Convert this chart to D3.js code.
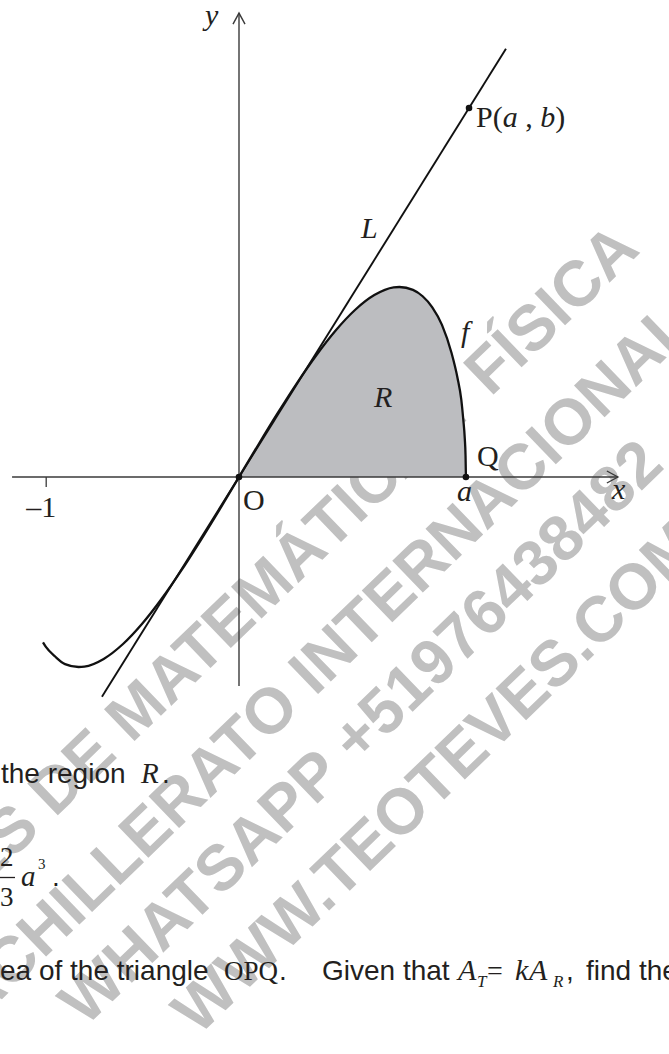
<!DOCTYPE html>
<html>
<head>
<meta charset="utf-8">
<script src="https://cdn.jsdelivr.net/npm/d3@7"></script>
<style>
  html, body { margin: 0; padding: 0; background: #fff; }
  svg { display: block; }
</style>
</head>
<body>
<svg id="chart" width="669" height="1054"></svg>
<script>
// ---------------- data ----------------
const xTickValues = [-1];
const xTickLabels = ["\u20131"];
// f for x < 0
const curveLeftX = [-1.014, -1.0, -0.95, -0.9, -0.83, -0.8, -0.7, -0.6, -0.5, -0.4, -0.3, -0.2, -0.1, 0];
const curveLeftY = [-0.856, -0.878, -0.930, -0.968, -0.983, -0.981, -0.941, -0.864, -0.758, -0.630, -0.486, -0.330, -0.167, 0];
// f for 0 <= x <= a
const curveRightX = [0, 0.1, 0.2, 0.3, 0.4, 0.5, 0.6, 0.7, 0.8, 0.83, 0.9, 0.95, 1.0, 1.05, 1.1, 1.13, 1.15, 1.16, 1.168, 1.172, 1.174];
const curveRightY = [0, 0.167, 0.330, 0.486, 0.630, 0.758, 0.864, 0.941, 0.981, 0.983, 0.968, 0.935, 0.878, 0.787, 0.640, 0.515, 0.400, 0.300, 0.200, 0.110, 0];
// line L
const lineLX = [-0.709, 1.381];
const lineLY = [-1.137, 2.215];
// marked points
const pointNames = ["O", "Q", "P"];
const pointX = [0, 1.174, 1.19];
const pointY = [0, 0, 1.909];
// axis extents
const xAxisExtent = [-1.174, 1.96];
const yAxisExtent = [-1.081, 2.40];
// watermark
const watermarkLines = [
  "CLASES DE MATEMÁTICA Y FÍSICA",
  "BACHILLERATO INTERNACIONAL",
  "WHATSAPP +51976438482",
  "WWW.TEOTEVES.COM"
];

// ---------------- setup ----------------
const svg = d3.select("#chart");
const SERIF = "'Liberation Serif','Times New Roman',Times,serif";
const SANS = "'Liberation Sans',Arial,Helvetica,sans-serif";
const INK = "#231f20";
const LBL = 30;

const x = d3.scaleLinear().domain([-1.2, 2.0]).range([239 - 1.2 * 193.3, 239 + 2.0 * 193.3]);
const y = d3.scaleLinear().domain([-1.2, 2.5]).range([477 + 1.2 * 193.3, 477 - 2.5 * 193.3]);

// ---------------- watermark ----------------
const wmStarts = [[-160, 995], [-72, 1040], [70, 1012], [183, 1021]];
const wm = svg.append("g");
watermarkLines.forEach((t, i) => {
  wm.append("text")
    .attr("transform", `translate(${wmStarts[i][0]},${wmStarts[i][1]}) rotate(-44)`)
    .attr("text-anchor", "start")
    .attr("dominant-baseline", "central")
    .attr("font-family", SANS)
    .attr("font-weight", "bold")
    .attr("font-size", 64)
    .attr("fill", "#c0c0c0")
    .text(t);
});

// ---------------- shaded region R ----------------
const rightPts = curveRightX.map((v, i) => [v, curveRightY[i]]);
const leftPts = curveLeftX.map((v, i) => [v, curveLeftY[i]]);

svg.append("path")
  .datum(rightPts)
  .attr("d", d3.area().x(d => x(d[0])).y0(y(0)).y1(d => y(d[1])).curve(d3.curveMonotoneX))
  .attr("fill", "#bcbdc0");

// ---------------- axes ----------------
const axisG = svg.append("g").attr("stroke", "#3a3a3a").attr("stroke-width", 1.4).attr("fill", "none");
axisG.append("line").attr("x1", x(xAxisExtent[0])).attr("x2", x(xAxisExtent[1])).attr("y1", y(0)).attr("y2", y(0));
axisG.append("line").attr("x1", x(0)).attr("x2", x(0)).attr("y1", y(yAxisExtent[0])).attr("y2", y(yAxisExtent[1]));
// arrow heads
const xe = x(xAxisExtent[1]), ye = y(yAxisExtent[1]);
axisG.append("path").attr("d", `M${xe - 11},${y(0) - 6}L${xe},${y(0)}L${xe - 11},${y(0) + 6}`);
axisG.append("path").attr("d", `M${x(0) - 6},${ye + 11}L${x(0)},${ye}L${x(0) + 6},${ye + 11}`);

// tick -1 via d3 axis
const xAxis = d3.axisBottom(x).tickValues(xTickValues).tickSize(10).tickFormat((d, i) => xTickLabels[i]);
const tickG = svg.append("g").attr("transform", `translate(0,${y(0)})`).call(xAxis);
tickG.select(".domain").remove();
tickG.selectAll(".tick line").attr("stroke", "#3a3a3a").attr("stroke-width", 1.3);
tickG.selectAll(".tick text")
  .attr("y", 40).attr("dy", 0).attr("x", -5)
  .attr("font-family", SERIF).attr("font-size", LBL).attr("fill", INK);

// ---------------- line L ----------------
svg.append("path")
  .datum(lineLX.map((v, i) => [v, lineLY[i]]))
  .attr("d", d3.line().x(d => x(d[0])).y(d => y(d[1])))
  .attr("stroke", "#111").attr("stroke-width", 1.9).attr("fill", "none");

// ---------------- curve f ----------------
const lineGen = d3.line().x(d => x(d[0])).y(d => y(d[1])).curve(d3.curveMonotoneX);
svg.append("path").datum(leftPts).attr("d", lineGen)
  .attr("stroke", "#111").attr("stroke-width", 2.3).attr("fill", "none");
svg.append("path").datum(rightPts).attr("d", lineGen)
  .attr("stroke", "#111").attr("stroke-width", 2.3).attr("fill", "none");

// ---------------- points ----------------
svg.append("g").selectAll("circle").data(pointNames).join("circle")
  .attr("cx", (d, i) => x(pointX[i])).attr("cy", (d, i) => y(pointY[i]))
  .attr("r", 3.3).attr("fill", "#111");

// ---------------- labels ----------------
function label(txt, px, py, opts = {}) {
  const t = svg.append("text")
    .attr("x", px).attr("y", py)
    .attr("font-family", opts.family || SERIF)
    .attr("font-size", opts.size || LBL)
    .attr("font-style", opts.italic ? "italic" : "normal")
    .attr("fill", INK)
    .attr("text-anchor", opts.anchor || "start");
  t.text(txt);
  return t;
}
label("y", 205, 25, { italic: true });
label("x", 612, 499, { italic: true });
label("O", 243, 510);
label("a", 457, 501, { italic: true });
label("Q", 477, 466);
label("R", 374, 407, { italic: true });
label("L", 361, 238, { italic: true });
label("f", 461, 342, { italic: true });
// P(a , b)
const pl = svg.append("text").attr("x", 476).attr("y", 127)
  .attr("font-family", SERIF).attr("font-size", LBL).attr("fill", INK);
pl.append("tspan").text("P(");
pl.append("tspan").attr("font-style", "italic").text("a");
pl.append("tspan").text(" , ");
pl.append("tspan").attr("font-style", "italic").text("b");
pl.append("tspan").text(")");

// ---------------- question text ----------------
label("the region", 1, 783, { family: SANS, size: 28 });
label("R", 141, 783, { italic: true, size: 29 });
label(".", 162, 783, { family: SANS, size: 28 });

// fraction 2/3 a^3 .
label("2", 0, 866, { size: 27 });
svg.append("line").attr("x1", -2).attr("x2", 15).attr("y1", 877.5).attr("y2", 877.5)
  .attr("stroke", INK).attr("stroke-width", 1.3);
label("3", 0, 906, { size: 27 });
label("a", 21, 886, { italic: true, size: 29 });
label("3", 38, 869, { size: 15 });
label(".", 52, 886, { family: SANS, size: 28 });

// last line
label("ea of the triangle", 0, 980, { family: SANS, size: 28 });
label("OPQ", 224, 980, { size: 27 });
label(".", 279, 980, { family: SANS, size: 28 });
label("Given that", 322, 980, { family: SANS, size: 28 });
label("A", 458, 980, { italic: true, size: 30 });
label("T", 477, 987, { italic: true, size: 17 });
label("=", 487, 980, { size: 28 });
label("k", 515, 980, { italic: true, size: 30 });
label("A", 529, 980, { italic: true, size: 30 });
label("R", 553, 987, { italic: true, size: 17 });
label(",", 566, 980, { family: SANS, size: 28 });
label("find the", 586, 980, { family: SANS, size: 28 });
</script>
</body>
</html>
